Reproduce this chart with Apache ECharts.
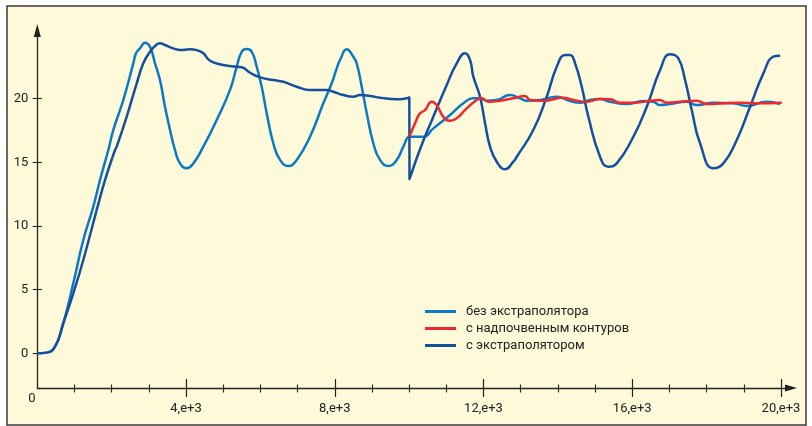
<!DOCTYPE html>
<html><head><meta charset="utf-8">
<script src="https://cdn.jsdelivr.net/npm/echarts@6/dist/echarts.min.js"></script>
<style>html,body{margin:0;padding:0;background:#fff}#c{width:812px;height:426px}</style>
</head><body><div id="c"></div>
<script>
const names = ['без экстраполятора', 'с надпочвенным контуров', 'с экстраполятором'];
const colors = ['#0B7AC3', '#EC2830', '#15509F'];

const xLight = [0,250,476,699,968,1237,1506,1686,1910,2044,2313,2582,2655,2762,2897,3031,3166,3300,3434,3569,3703,3838,4018,4196,4465,4825,5183,5363,5498,5632,5767,5901,6035,6170,6347,6528,6751,6977,7334,7692,7918,8053,8142,8322,8499,8590,8725,8860,9037,9217,9440,9666,9844,10005,10070,10382,10651,11100,11458,11727,11907,12087,12356,12714,12983,13163,13521,13970,14328,14596,14865,15134,15403,15852,16299,16568,16748,17017,17466,17735,18182,18720,19080,19618,19976];
const yLight = [0,0.05,0.52,2.36,5.50,8.90,11.52,13.61,15.97,17.54,19.9,22.78,23.57,23.96,24.40,24.08,22.78,21.46,19.37,17.54,15.97,14.92,14.53,14.92,16.23,18.33,20.69,22.51,23.69,23.90,23.69,22.51,20.94,18.85,16.50,15.19,14.71,15.19,17.01,19.64,21.21,22.39,23.04,23.88,23.30,22.78,20.94,18.85,16.50,15.19,14.71,15.19,16.23,17.01,17.01,17.01,17.67,18.72,19.64,20.03,20.03,19.84,19.90,20.29,20.03,19.84,19.90,20.16,19.82,19.68,19.90,19.97,19.76,19.58,19.82,19.76,19.50,19.58,19.76,19.50,19.68,19.64,19.43,19.76,19.58];

const xRed = [10005,10159,10293,10428,10608,10742,10920,11100,11280,11549,11818,11953,12130,12445,12803,13117,13252,13610,14147,14416,14777,15134,15403,15672,16030,16479,16748,16928,17286,17735,18004,18451,18899,19349,20021];
const yRed = [17.0,18.07,18.85,19.11,19.76,19.50,18.58,18.27,18.46,19.24,19.90,20.03,19.76,19.84,20.03,20.21,19.90,19.84,20.08,19.90,19.76,19.97,19.95,19.68,19.68,19.84,19.90,19.68,19.76,19.84,19.58,19.64,19.68,19.64,19.68];

const xDark = [0,250,476,699,968,1237,1598,1821,2090,2136,2405,2674,2851,3031,3166,3300,3434,3658,3838,4107,4287,4465,4599,4734,5003,5363,5498,5721,5990,6347,6616,6977,7334,7784,7961,8230,8499,8679,8948,9217,9666,9935,10005,10010,10293,10651,11011,11280,11503,11638,11727,11907,12042,12176,12356,12580,12803,12895,13340,13701,13970,14193,14328,14462,14642,14820,15134,15358,15584,16030,16390,16748,17017,17241,17421,17601,17824,18182,18451,18811,19169,19527,19796,19976];
const yDark = [0,0.05,0.52,2.36,4.71,7.33,11.26,13.61,15.97,16.23,18.59,21.21,22.78,23.69,24.14,24.35,24.22,23.96,23.82,23.88,23.82,23.57,23.09,22.86,22.65,22.51,22.47,22.04,21.68,21.47,21.33,20.94,20.68,20.68,20.55,20.29,20.16,20.29,20.21,20.08,19.95,20.03,20.11,13.67,16.03,18.59,21.08,22.78,23.57,23.04,21.73,20.16,18.07,16.23,15.05,14.45,15.05,15.44,17.54,20.16,22.51,23.43,23.43,22.78,20.94,18.59,15.44,14.66,14.92,17.01,19.37,22.25,23.49,23.17,21.47,19.11,16.50,14.53,14.92,16.76,19.37,21.99,23.30,23.38];

const xMajorTicks = [4000, 8000, 12000, 16000, 20000];
const xMinorTicks = [1000,2000,3000,5000,6000,7000,9000,10000,11000,13000,14000,15000,17000,18000,19000];
const yTicks = [0, 5, 10, 15, 20];

const zip = (xs, ys) => xs.map((x, i) => [x, ys[i]]);
const FONT = 'Roboto, "Liberation Sans", sans-serif';
const AX = '#222';
const X_MIN = 0, X_MAX = 20270, Y_MIN = -2.73, Y_MAX = 25.36;

function xAx(extra) {
  return Object.assign({
    type: 'value', position: 'bottom', min: X_MIN, max: X_MAX,
    splitLine: { show: false },
    axisLine: { show: false, onZero: false },
    axisTick: { show: false },
    axisLabel: { show: false }
  }, extra);
}
function yAx(extra) {
  return Object.assign({
    type: 'value', position: 'left', min: Y_MIN, max: Y_MAX,
    splitLine: { show: false },
    axisLine: { show: false, onZero: false },
    axisTick: { show: false },
    axisLabel: { show: false }
  }, extra);
}

const chart = echarts.init(document.getElementById('c'));
chart.setOption({
  backgroundColor: '#ffffff',
  animation: false,
  graphic: [{
    type: 'rect', z: -10, silent: true,
    shape: { x: 7, y: 6, width: 799, height: 419 },
    style: { fill: '#FEF9D8', stroke: '#3a3a3a', lineWidth: 1.5 }
  }],
  grid: { left: 37.3, right: 21, top: 30.5, bottom: 38, outerBoundsMode: 'none' },
  legend: {
    data: names,
    orient: 'vertical',
    left: 420, top: 298,
    icon: 'rect', itemWidth: 31, itemHeight: 3, itemGap: 0,
    textStyle: { fontFamily: FONT, fontSize: 13, color: '#222', lineHeight: 17, padding: [0, 0, 0, 5] }
  },
  xAxis: [
    xAx({
      axisLine: { show: true, onZero: false, symbol: ['none', 'triangle'], symbolSize: [7, 12], lineStyle: { color: AX, width: 1.3 } },
      axisTick: { show: true, customValues: xMajorTicks, length: 9, lineStyle: { color: AX, width: 1.2 } },
      axisLabel: { show: true, customValues: xMajorTicks, margin: 14, color: '#222', fontFamily: FONT, fontSize: 13,
        formatter: v => (v / 1000) + ',e+3' }
    }),
    xAx({ axisTick: { show: true, inside: true, customValues: xMajorTicks, length: 9, lineStyle: { color: AX, width: 1.2 } } }),
    xAx({
      axisTick: { show: true, customValues: xMinorTicks, length: 4.5, lineStyle: { color: AX, width: 1.1 } },
      axisLabel: { show: true, customValues: [0], margin: 4, color: '#222', fontFamily: FONT, fontSize: 13,
        formatter: () => '{z|0}', rich: { z: { padding: [0, 11, 0, 0], fontFamily: FONT, fontSize: 13, color: '#222' } } }
    }),
    xAx({ axisTick: { show: true, inside: true, customValues: xMinorTicks, length: 3.5, lineStyle: { color: AX, width: 1.1 } } })
  ],
  yAxis: [
    yAx({
      axisLine: { show: true, onZero: false, symbol: ['none', 'triangle'], symbolSize: [7, 13], lineStyle: { color: AX, width: 1.3 } },
      axisTick: { show: true, customValues: yTicks, length: 4.6, lineStyle: { color: AX, width: 1.1 } },
      axisLabel: { show: true, customValues: yTicks, margin: 9, color: '#222', fontFamily: FONT, fontSize: 13 }
    }),
    yAx({ axisTick: { show: true, inside: true, customValues: yTicks, length: 4.6, lineStyle: { color: AX, width: 1.1 } } })
  ],
  series: [
    { name: names[0], type: 'line', data: zip(xLight, yLight), symbol: 'none', smooth: 0.5,
      lineStyle: { color: colors[0], width: 2.5 }, itemStyle: { color: colors[0] }, z: 2 },
    { name: names[2], type: 'line', data: zip(xDark, yDark), symbol: 'none', smooth: 0.5,
      lineStyle: { color: colors[2], width: 2.5 }, itemStyle: { color: colors[2] }, z: 3 },
    { name: names[1], type: 'line', data: zip(xRed, yRed), symbol: 'none', smooth: 0.5,
      lineStyle: { color: colors[1], width: 2.5 }, itemStyle: { color: colors[1] }, z: 4 }
  ]
});
</script></body></html>
